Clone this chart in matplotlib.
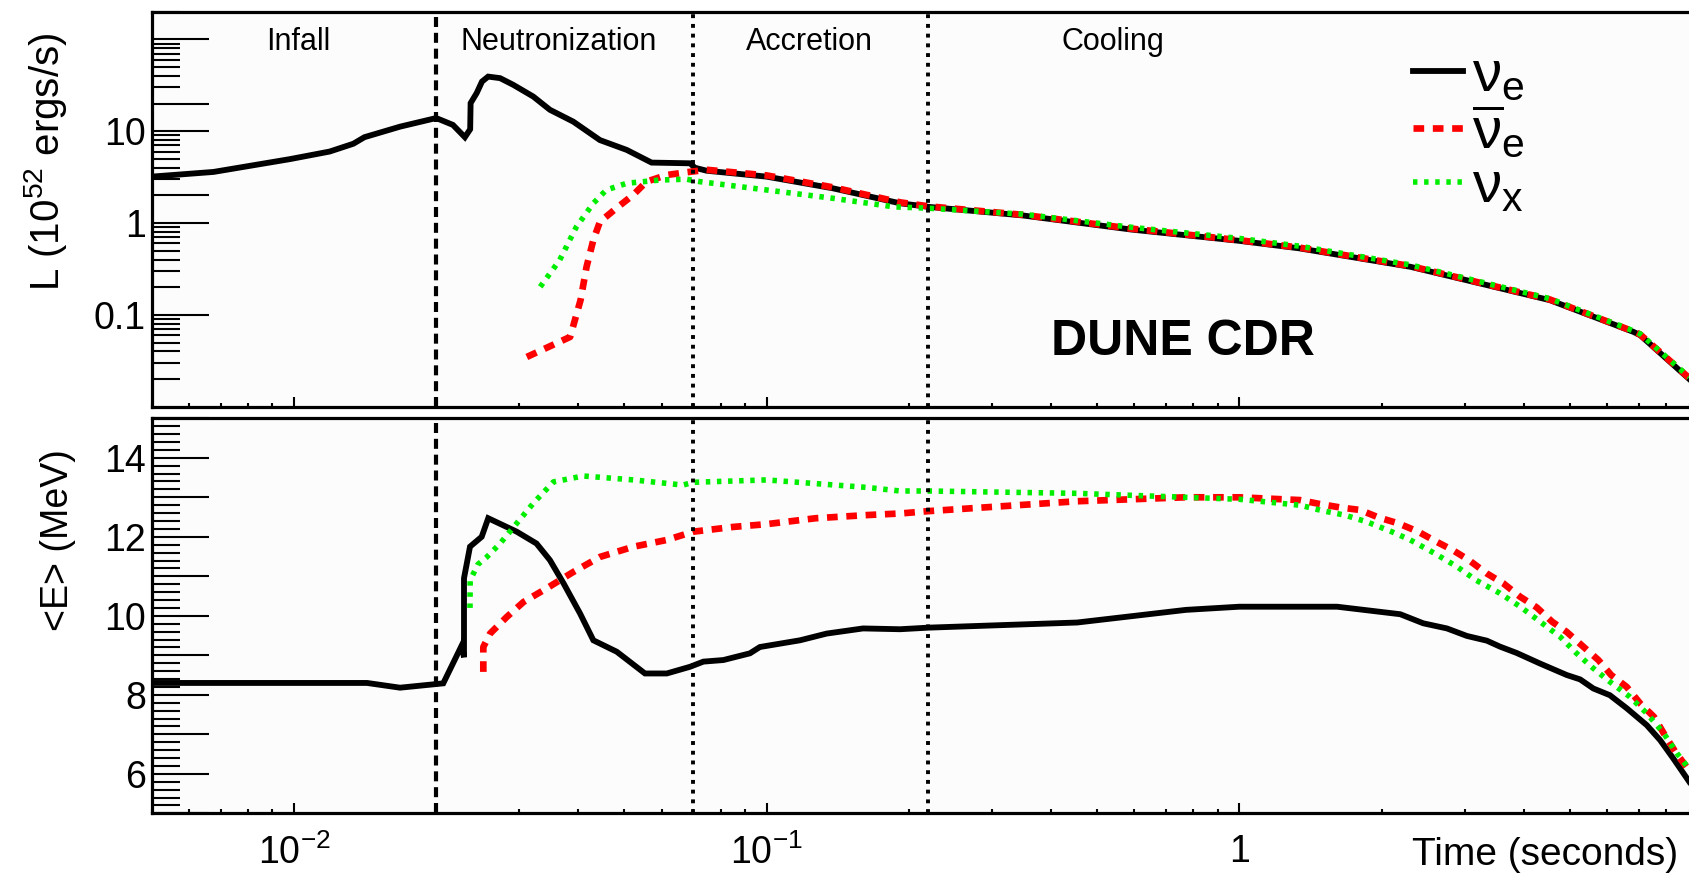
import matplotlib
matplotlib.use('Agg')
import matplotlib.pyplot as plt
from matplotlib.ticker import FixedLocator, FixedFormatter, NullFormatter

plt.rcParams['font.family'] = ['Liberation Sans', 'DejaVu Sans']
plt.rcParams['mathtext.fontset'] = 'custom'
plt.rcParams['mathtext.rm'] = 'Liberation Sans'
plt.rcParams['mathtext.it'] = 'Liberation Sans'
plt.rcParams['mathtext.bf'] = 'Liberation Sans:bold'

# luminosity (10^52 erg/s) vs time (s)
t_L_nue = [0.005, 0.00676, 0.0098, 0.0119, 0.01336, 0.0141, 0.01677, 0.0200, 0.0217,
           0.0230, 0.0236, 0.02365, 0.02436, 0.0250, 0.02576, 0.0273, 0.0291, 0.0321,
           0.0348, 0.039, 0.0444, 0.0506, 0.0571, 0.0689, 0.0705, 0.0747, 0.1, 0.138,
           0.1916, 0.22, 0.348, 0.59, 1.0, 1.34, 2.30, 3.02, 4.54, 6.82, 7.05, 8.3, 8.95]
L_nue = [3.2, 3.6, 4.96, 6.0, 7.3, 8.6, 11.2, 13.9, 11.7,
         8.6, 10.5, 20.2, 26.0, 34.7, 39.3, 37.8, 32.0, 23.8,
         17.1, 12.7, 8.0, 6.25, 4.55, 4.47, 4.0, 3.71, 3.2, 2.39,
         1.64, 1.50, 1.21, 0.85, 0.64, 0.53, 0.334, 0.239, 0.1445, 0.0653, 0.060, 0.0283, 0.020]

t_L_nuebar = [0.0311, 0.0384, 0.0404, 0.0416, 0.0430, 0.0444, 0.0481, 0.0522, 0.0557,
              0.0614, 0.0677, 0.0747, 0.1, 0.138, 0.1916, 0.22, 0.348, 0.59, 1.0, 1.34,
              2.30, 3.02, 4.54, 6.82, 7.05, 8.3, 8.95]
L_nuebar = [0.0348, 0.0575, 0.1445, 0.333, 0.653, 1.03, 1.45, 2.02, 2.82,
            3.33, 3.57, 3.8, 3.3, 2.45, 1.68, 1.52, 1.23, 0.87, 0.65, 0.54,
            0.34, 0.243, 0.147, 0.066, 0.061, 0.029, 0.0205]

t_L_nux = [0.0332, 0.0365, 0.0396, 0.0430, 0.0458, 0.0506, 0.0595, 0.0677, 0.0723,
           0.1, 0.138, 0.186, 0.22, 0.348, 0.59, 1.0, 1.34, 2.30, 3.02, 4.54, 6.82,
           7.05, 8.3, 8.95]
L_nux = [0.202, 0.395, 0.91, 1.64, 2.29, 2.71, 2.94, 3.0, 2.82,
         2.29, 1.86, 1.5, 1.45, 1.25, 0.9, 0.68, 0.56, 0.35, 0.25, 0.15, 0.067,
         0.062, 0.0295, 0.021]

# mean energy (MeV) vs time (s)
t_E_nue = [0.005, 0.01428, 0.01677, 0.0207, 0.02265, 0.0229, 0.0229, 0.02358, 0.02496,
           0.02577, 0.0296, 0.0326, 0.0348, 0.0372, 0.0403, 0.0430, 0.0482, 0.0553,
           0.0615, 0.0689, 0.0735, 0.0810, 0.0922, 0.0968, 0.1177, 0.134, 0.160,
           0.1916, 0.22, 0.454, 0.771, 1.0, 1.61, 2.19, 2.45, 2.75, 3.03, 3.34, 3.56,
           3.86, 4.33, 4.93, 5.26, 5.61, 6.08, 6.6, 7.28, 7.77, 8.28, 8.95]
E_nue = [8.3, 8.3, 8.18, 8.29, 9.25, 8.95, 10.95, 11.75, 12.0,
         12.47, 12.13, 11.83, 11.41, 10.82, 10.06, 9.38, 9.09, 8.54,
         8.54, 8.71, 8.84, 8.88, 9.05, 9.21, 9.38, 9.55, 9.68,
         9.66, 9.70, 9.83, 10.15, 10.23, 10.23, 10.04, 9.81, 9.68, 9.49, 9.37, 9.22,
         9.06, 8.79, 8.5, 8.39, 8.16, 7.99, 7.66, 7.23, 6.85, 6.39, 5.8]

t_E_nuebar = [0.02516, 0.02516, 0.026, 0.0282, 0.0306, 0.0342, 0.0390, 0.0444, 0.0523,
              0.0615, 0.070, 0.085, 0.1, 0.127, 0.163, 0.1916, 0.22, 0.454, 0.771, 1.0,
              1.344, 1.48, 1.64, 1.8, 1.97, 2.17, 2.39, 2.59, 2.84, 3.06, 3.34, 3.62,
              3.93, 4.26, 4.59, 4.93, 5.34, 5.75, 6.12, 6.6, 7.05, 7.54, 7.91, 8.36, 8.95]
E_nuebar = [8.58, 9.21, 9.55, 9.97, 10.35, 10.69, 11.11, 11.49, 11.75,
            11.92, 12.13, 12.25, 12.32, 12.47, 12.55, 12.59, 12.65, 12.9, 13.0, 13.0,
            12.93, 12.83, 12.74, 12.68, 12.49, 12.34, 12.13, 11.9, 11.65, 11.41, 11.07, 10.82,
            10.48, 10.21, 9.85, 9.59, 9.22, 8.88, 8.5, 8.2, 7.78, 7.44, 7.02, 6.56, 6.08]

t_E_nux = [0.02358, 0.0236, 0.0245, 0.0256, 0.0273, 0.0296, 0.0321, 0.0354, 0.0409,
           0.0523, 0.0665, 0.07, 0.1, 0.163, 0.1916, 0.22, 0.454, 0.771, 1.0, 1.344,
           1.5, 1.67, 1.86, 2.1, 2.3, 2.59, 2.89, 3.17, 3.56, 3.93, 4.33, 4.77, 5.17,
           5.61, 6.08, 6.7, 7.28, 7.91, 8.43, 8.95]
E_nux = [10.2, 10.9, 11.3, 11.49, 11.83, 12.34, 12.85, 13.39, 13.54,
         13.44, 13.31, 13.38, 13.44, 13.25, 13.16, 13.16, 13.1, 13.0, 12.95, 12.8,
         12.66, 12.55, 12.38, 12.13, 11.92, 11.58, 11.24, 10.9, 10.57, 10.23, 9.85, 9.47, 9.05,
         8.67, 8.33, 7.95, 7.53, 7.02, 6.52, 6.12]

phase_bounds = [0.02, 0.07, 0.22]
phase_names = ['Infall', 'Neutronization', 'Accretion', 'Cooling']
phase_label_t = [0.0102, 0.0364, 0.123, 0.541]

W, H = 1689, 874
fig = plt.figure(figsize=(W / 100, H / 100), dpi=100)
x_left, x_right = 151.6, 1712.0
ax1 = fig.add_axes([x_left / W, 1 - 406.7 / H, (x_right - x_left) / W, 395 / H])
ax2 = fig.add_axes([x_left / W, 1 - 813.3 / H, (x_right - x_left) / W, 395 / H])

black = dict(color='black', lw=4.2, solid_joinstyle='miter')
red = dict(color='#ff0000', lw=4.8, linestyle=(0, (1.6, 1.3)), dash_capstyle='butt')
green = dict(color='#00ee00', lw=4.0, linestyle=(0, (0.8, 1.2)), dash_capstyle='butt')

ax1.plot(t_L_nue, L_nue, label=r'$\nu_{e}$', **black)
ax1.plot(t_L_nuebar, L_nuebar, label=r'$\overline{\nu}_{e}$', **red)
ax1.plot(t_L_nux, L_nux, label=r'$\nu_{x}$', **green)

ax2.plot(t_E_nue, E_nue, **black)
ax2.plot(t_E_nuebar, E_nuebar, **red)
ax2.plot(t_E_nux, E_nux, **green)

for ax in (ax1, ax2):
    ax.set_facecolor('#fcfcfc')
    ax.set_xscale('log')
    ax.set_xlim(0.005, 10)
    ax.axvline(phase_bounds[0], color='black', lw=3.0, linestyle=(0, (2.4, 1.4)))
    for b in phase_bounds[1:]:
        ax.axvline(b, color='black', lw=2.8, linestyle=(0, (1.0, 1.5)))
    for s in ['top', 'bottom', 'left']:
        ax.spines[s].set_linewidth(2.3)
    ax.spines['right'].set_visible(False)
    ax.xaxis.set_major_locator(FixedLocator([0.01, 0.1, 1]))
    ax.xaxis.set_minor_locator(FixedLocator(
        [m * d for d in (0.001, 0.01, 0.1, 1) for m in range(2, 10)]))
    ax.xaxis.set_minor_formatter(NullFormatter())
    ax.tick_params(axis='x', which='major', direction='in', length=7, width=1.5,
                   top=False, labelsize=27, pad=15)
    ax.tick_params(axis='x', which='minor', direction='in', length=3, width=1.5, top=False)
    ax.tick_params(axis='y', which='major', direction='in', length=41, width=1.5,
                   right=False, labelsize=27, pad=4)
    ax.tick_params(axis='y', which='minor', direction='in', length=20, width=1.5, right=False)

ax1.xaxis.set_major_formatter(NullFormatter())
ax2.xaxis.set_major_formatter(FixedFormatter(['$10^{-2}$', '$10^{-1}$', '1']))

ax1.set_yscale('log')
ax1.set_ylim(0.01, 200)
major_L = [0.1, 1, 2, 10, 20, 100]
ax1.yaxis.set_major_locator(FixedLocator(major_L))
ax1.yaxis.set_major_formatter(FixedFormatter(['0.1', '1', '', '10', '', '']))
ax1.yaxis.set_minor_locator(FixedLocator(
    [m * d for d in (0.01, 0.1, 1, 10, 100) for m in range(2, 10) if m * d not in major_L]))
ax1.yaxis.set_minor_formatter(NullFormatter())

ax2.set_ylim(5, 15)
ax2.yaxis.set_major_locator(FixedLocator(list(range(5, 16))))
ax2.yaxis.set_major_formatter(FixedFormatter([str(v) if v % 2 == 0 else '' for v in range(5, 16)]))
ax2.yaxis.set_minor_locator(FixedLocator([5 + 0.2 * i for i in range(51)]))

for name, tx in zip(phase_names, phase_label_t):
    ax1.text(tx, 0.923, name, transform=ax1.get_xaxis_transform(),
             ha='center', va='center', fontsize=22)

ax1.text(0.76, 0.164, 'DUNE CDR', transform=ax1.get_xaxis_transform(),
         ha='center', va='center', fontsize=36, fontweight='bold')

ax1.legend(loc='upper left', bbox_to_anchor=(0.8084, 0.905), frameon=False,
           fontsize=42, handlelength=0.86, handletextpad=0.15, labelspacing=0.0,
           borderpad=0, borderaxespad=0)

fig.text(45.5 / W, 1 - 161.7 / H, 'L (10$^{52}$ ergs/s)', rotation=90,
         ha='center', va='center', fontsize=29)
fig.text(58 / W, 1 - 540 / H, '<E> (MeV)', rotation=90,
         ha='center', va='center', fontsize=27)
fig.text(1678 / W, 1 - 855 / H, 'Time (seconds)', ha='right', va='center', fontsize=28)

fig.savefig('out.png', dpi=100)
